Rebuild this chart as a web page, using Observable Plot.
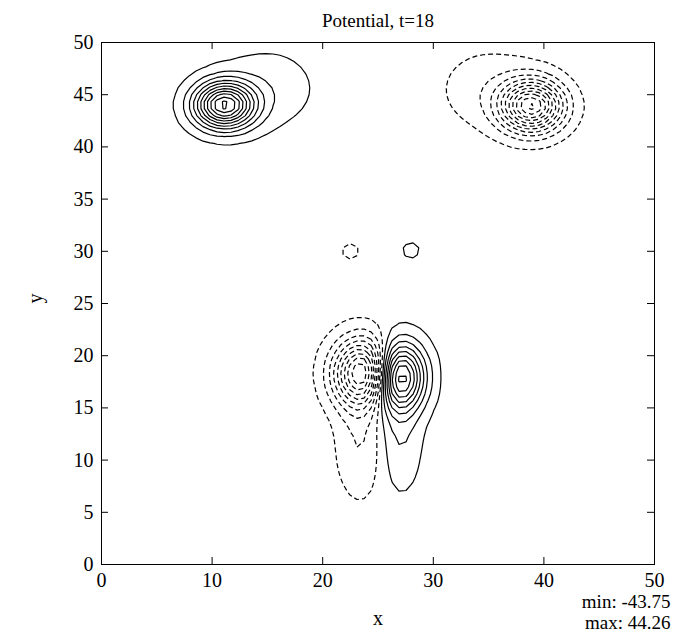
<!DOCTYPE html>
<html><head><meta charset="utf-8">
<script src="https://cdn.jsdelivr.net/npm/d3@7"></script>
<script src="https://cdn.jsdelivr.net/npm/@observablehq/plot@0.6"></script>
<style>body{margin:0;background:#fff}</style>
</head><body><div id="chart"></div>
<script>
// Tick labels
const xTicks = [0, 10, 20, 30, 40, 50];
const yTicks = [0, 5, 10, 15, 20, 25, 30, 35, 40, 45, 50];
// Contour levels (solid = positive, dashed = negative)
const levelsPos = [2, 6, 10, 14, 18, 22, 26, 30, 34, 38, 42];
const levelsNeg = [-2, -6, -10, -14, -18, -22, -26, -30, -34, -38, -42];
// Field features: centre, amplitude, spread
const blobX   = [11.1, 15.0, 38.9, 35.0, 26.7, 23.9, 27.0, 23.4, 22.5, 28.0];
const blobY   = [44.0, 45.6, 43.9, 45.5, 18.0, 18.3, 12.0, 11.5, 30.0, 30.1];
const blobAmp = [42.0, 4.5, -41.5, -4.5, 46, -44, 6, -6, -3.5, 3.5];
const blobSx  = [1.85, 3.0, 1.9, 3.0, 1.6, 1.9, 1.3, 1.5, 0.7, 0.7];
const blobSy  = [1.5, 2.6, 1.65, 2.6, 2.2, 2.2, 3.5, 3.6, 0.7, 0.7];
const titleText = "Potential, t=18";
const minText = "min: -43.75";
const maxText = "max: 44.26";

function field(x, y) {
  let s = 0;
  for (let i = 0; i < blobX.length; i++) {
    const dx = (x - blobX[i]) / blobSx[i], dy = (y - blobY[i]) / blobSy[i];
    s += blobAmp[i] * Math.exp(-0.5 * (dx * dx + dy * dy));
  }
  return s;
}

const W = 676, H = 632, mt = 42, mb = 68, ml = 101, mr = 22;
const fw = W - ml - mr, fh = H - mt - mb, tickLen = 7;
const font = "Liberation Serif, Times New Roman, serif";

const chart = Plot.plot({
  width: W, height: H,
  marginTop: mt, marginBottom: mb, marginLeft: ml, marginRight: mr,
  x: {domain: [0, 50]},
  y: {domain: [0, 50]},
  style: {fontFamily: font, fontSize: "20px", background: "white", color: "black"},
  marks: [
    Plot.contour({value: field, x1: 0, x2: 50, y1: 0, y2: 50, thresholds: levelsPos,
      stroke: "black", fill: "none", strokeWidth: 1.2, pixelSize: 7}),
    Plot.contour({value: (x, y) => -field(x, y), x1: 0, x2: 50, y1: 0, y2: 50,
      thresholds: levelsNeg.map(v => -v),
      stroke: "black", fill: "none", strokeWidth: 1.2, strokeDasharray: "5,3", pixelSize: 7}),
    Plot.frame({stroke: "black", strokeWidth: 1}),
    Plot.tickX(xTicks, {x: d => d, insetTop: fh - tickLen, stroke: "black"}),
    Plot.tickX(xTicks, {x: d => d, insetBottom: fh - tickLen, stroke: "black"}),
    Plot.tickY(yTicks, {y: d => d, insetRight: fw - tickLen, stroke: "black"}),
    Plot.tickY(yTicks, {y: d => d, insetLeft: fw - tickLen, stroke: "black"}),
    Plot.axisX({ticks: xTicks, tickSize: 0, tickPadding: 8, label: null, tickFormat: d => d}),
    Plot.axisY({ticks: yTicks, tickSize: 0, tickPadding: 8, label: null, tickFormat: d => d}),
    Plot.text([titleText], {frameAnchor: "top", dy: -22, text: d => d, fontSize: 19, lineAnchor: "middle"}),
    Plot.text(["x"], {frameAnchor: "bottom", dy: 54, text: d => d, fontSize: 20, lineAnchor: "middle"}),
    Plot.text(["y"], {frameAnchor: "left", dx: -66, text: d => d, fontSize: 20, rotate: -90, lineAnchor: "middle"}),
    Plot.text([minText], {frameAnchor: "bottom-right", dx: 16, dy: 37, text: d => d, textAnchor: "end", fontSize: 19, lineAnchor: "middle"}),
    Plot.text([maxText], {frameAnchor: "bottom-right", dx: 16, dy: 58, text: d => d, textAnchor: "end", fontSize: 19, lineAnchor: "middle"})
  ]
});
document.getElementById("chart").appendChild(chart);
</script>
</body></html>
